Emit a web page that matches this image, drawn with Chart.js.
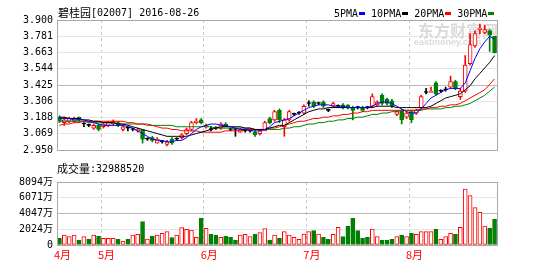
<!DOCTYPE html>
<html>
<head>
<meta charset="utf-8">
<title>碧桂园 K线</title>
<script src="https://cdn.jsdelivr.net/npm/chart.js@4.4.1/dist/chart.umd.min.js"></script>
<style>
  html, body { margin: 0; padding: 0; background: #fff; }
  #wrap { position: relative; width: 550px; height: 263px; overflow: hidden; }
  canvas { position: absolute; left: 0; }
  #price { top: 0; }
  #vol { top: 160px; }
</style>
</head>
<body>
<div id="wrap">
  <canvas id="price" width="550" height="160"></canvas>
  <canvas id="vol" width="550" height="103"></canvas>
</div>
<script>
// trading days 2016-04 .. 2016-08-26, month starts by bar index
const monthStarts = [0, 9, 30, 51, 72];
const monthLabels = ['4月', '5月', '6月', '7月', '8月'];

const opens = [3.19,3.15,3.16,3.16,3.19,3.14,3.13,3.11,3.13,3.12,
  3.13,3.14,3.15,3.10,3.11,3.10,3.09,3.10,3.03,3.04,
  3.00,3.01,2.99,3.03,3.03,3.04,3.07,3.10,3.15,3.17,
  3.12,3.10,3.11,3.11,3.14,3.10,3.10,3.08,3.09,3.09,
  3.08,3.07,3.09,3.18,3.17,3.24,3.12,3.17,3.21,3.22,
  3.22,3.29,3.30,3.29,3.30,3.24,3.27,3.27,3.28,3.28,
  3.26,3.26,3.26,3.26,3.27,3.28,3.35,3.32,3.31,3.21,
  3.24,3.19,3.23,3.22,3.26,3.37,3.37,3.44,3.38,3.39,
  3.41,3.45,3.34,3.38,3.58,3.71,3.83,3.81,3.82,3.78];
const closes = [3.16,3.17,3.18,3.18,3.17,3.14,3.13,3.13,3.10,3.14,
  3.15,3.16,3.13,3.12,3.11,3.10,3.10,3.03,3.03,3.02,
  3.03,3.01,3.01,3.00,3.03,3.06,3.10,3.15,3.16,3.15,
  3.13,3.10,3.11,3.14,3.12,3.10,3.10,3.10,3.09,3.09,
  3.06,3.09,3.15,3.15,3.23,3.17,3.17,3.23,3.21,3.22,
  3.27,3.29,3.27,3.29,3.27,3.24,3.29,3.27,3.26,3.26,
  3.24,3.26,3.24,3.26,3.34,3.30,3.29,3.29,3.27,3.23,
  3.17,3.22,3.17,3.24,3.34,3.37,3.38,3.36,3.38,3.39,
  3.45,3.40,3.38,3.57,3.72,3.80,3.84,3.83,3.79,3.66];
const highs = [3.20,3.19,3.19,3.19,3.19,3.15,3.14,3.14,3.14,3.15,
  3.16,3.17,3.16,3.13,3.12,3.11,3.11,3.10,3.04,3.05,
  3.04,3.02,3.02,3.04,3.04,3.07,3.11,3.16,3.18,3.18,
  3.14,3.12,3.12,3.15,3.15,3.11,3.11,3.11,3.10,3.10,
  3.09,3.10,3.16,3.19,3.24,3.25,3.18,3.24,3.22,3.23,
  3.28,3.31,3.31,3.30,3.31,3.25,3.30,3.28,3.29,3.28,
  3.27,3.27,3.27,3.27,3.36,3.31,3.36,3.33,3.32,3.24,
  3.25,3.23,3.24,3.25,3.35,3.40,3.41,3.45,3.39,3.41,
  3.49,3.46,3.40,3.64,3.80,3.82,3.87,3.86,3.83,3.78];
const lows = [3.15,3.13,3.15,3.15,3.16,3.12,3.12,3.10,3.09,3.11,
  3.12,3.13,3.12,3.09,3.09,3.09,3.08,3.00,3.02,3.01,
  3.00,3.00,2.98,2.99,3.02,3.03,3.06,3.09,3.14,3.14,
  3.11,3.09,3.10,3.10,3.12,3.09,3.05,3.08,3.08,3.08,
  3.05,3.06,3.09,3.14,3.16,3.15,3.05,3.16,3.20,3.21,
  3.21,3.27,3.26,3.28,3.26,3.23,3.26,3.26,3.25,3.25,
  3.17,3.25,3.23,3.25,3.26,3.27,3.28,3.28,3.26,3.20,
  3.14,3.18,3.15,3.21,3.25,3.36,3.37,3.35,3.37,3.38,
  3.40,3.39,3.32,3.37,3.57,3.70,3.80,3.80,3.67,3.66];

const ma5 = [3.18,3.18,3.18,3.17,3.17,3.17,3.16,3.15,3.14,3.13,
  3.13,3.13,3.13,3.13,3.12,3.11,3.09,3.07,3.05,3.03,
  3.02,3.02,3.01,3.01,3.02,3.02,3.04,3.07,3.10,3.12,
  3.13,3.14,3.14,3.13,3.13,3.12,3.11,3.10,3.10,3.09,
  3.09,3.09,3.10,3.12,3.15,3.16,3.17,3.18,3.20,3.22,
  3.24,3.26,3.27,3.28,3.28,3.28,3.27,3.27,3.27,3.26,
  3.26,3.26,3.26,3.26,3.27,3.29,3.30,3.30,3.29,3.27,
  3.25,3.23,3.22,3.22,3.25,3.29,3.33,3.35,3.37,3.39,
  3.40,3.40,3.40,3.44,3.53,3.62,3.69,3.74,3.78,3.76];
const ma10 = [3.19,3.19,3.18,3.18,3.18,3.17,3.17,3.16,3.16,3.15,
  3.15,3.15,3.14,3.14,3.13,3.12,3.11,3.10,3.09,3.08,
  3.07,3.06,3.05,3.05,3.05,3.05,3.05,3.06,3.07,3.08,
  3.09,3.10,3.11,3.12,3.12,3.12,3.12,3.12,3.11,3.11,
  3.10,3.10,3.10,3.11,3.12,3.13,3.13,3.15,3.17,3.19,
  3.21,3.23,3.24,3.25,3.25,3.26,3.26,3.26,3.26,3.26,
  3.26,3.26,3.26,3.26,3.26,3.27,3.27,3.27,3.27,3.26,
  3.26,3.26,3.26,3.26,3.26,3.26,3.27,3.29,3.31,3.33,
  3.34,3.35,3.36,3.39,3.42,3.47,3.51,3.55,3.59,3.64];
const ma20 = [3.13,3.14,3.14,3.15,3.15,3.16,3.16,3.16,3.16,3.16,
  3.16,3.16,3.16,3.16,3.15,3.15,3.14,3.14,3.13,3.13,
  3.12,3.11,3.11,3.10,3.10,3.09,3.09,3.09,3.09,3.08,
  3.08,3.08,3.08,3.08,3.09,3.09,3.09,3.09,3.10,3.10,
  3.10,3.10,3.10,3.11,3.11,3.12,3.13,3.14,3.15,3.16,
  3.16,3.17,3.18,3.18,3.19,3.19,3.20,3.20,3.21,3.21,
  3.22,3.22,3.23,3.23,3.24,3.24,3.24,3.24,3.24,3.24,
  3.24,3.24,3.24,3.24,3.25,3.25,3.26,3.26,3.27,3.27,
  3.28,3.28,3.29,3.31,3.33,3.35,3.37,3.39,3.43,3.47];
const ma30 = [3.16,3.16,3.16,3.16,3.16,3.16,3.15,3.15,3.15,3.15,
  3.15,3.15,3.14,3.14,3.14,3.14,3.14,3.14,3.14,3.13,
  3.13,3.13,3.13,3.13,3.12,3.12,3.12,3.12,3.12,3.12,
  3.12,3.12,3.11,3.11,3.11,3.11,3.11,3.11,3.11,3.11,
  3.10,3.10,3.10,3.10,3.10,3.10,3.11,3.11,3.12,3.12,
  3.13,3.14,3.14,3.15,3.15,3.16,3.16,3.17,3.17,3.18,
  3.18,3.19,3.19,3.20,3.21,3.21,3.22,3.22,3.23,3.23,
  3.24,3.24,3.24,3.24,3.24,3.25,3.25,3.25,3.25,3.26,
  3.26,3.27,3.27,3.28,3.29,3.31,3.33,3.35,3.38,3.41];

// volume in 万 shares, 1 = up (hollow red), 0 = down (green)
const volume = [860,1285,1070,1285,640,1070,770,1285,1160,860,
  860,860,730,510,770,1285,1370,3000,770,1160,
  1285,1500,1710,940,1285,2230,2010,1930,990,3430,
  2140,1370,1240,990,1115,990,640,1285,1370,1070,
  1370,1585,2100,640,1285,860,1710,1285,990,730,
  1410,1710,1840,1410,990,730,1370,2270,1070,2440,
  3430,1840,860,990,2060,1070,640,640,730,1070,
  1285,1070,1500,1370,1710,1710,1710,2010,730,1070,
  1500,1370,2270,7200,6340,4800,4200,2440,2140,3299];
const volUp = [0,1,1,1,0,1,0,1,0,1,
  1,1,0,1,0,1,1,0,1,0,
  1,1,1,0,1,1,1,1,1,0,
  1,0,0,1,0,0,0,1,1,1,
  0,1,1,0,1,0,1,1,1,1,
  1,1,0,1,0,0,1,1,0,0,
  0,0,0,0,1,1,0,0,0,1,
  0,1,0,1,1,1,1,0,1,1,
  1,0,1,1,1,1,1,1,0,0];

const priceTicks = ['2.950','3.069','3.188','3.306','3.425','3.544','3.663','3.781','3.900'];
const volTicks = [0, 2024, 4047, 6071, 8094];

const UP = '#ff0000', DOWN = '#008000', FLAT = '#000000';
const FRAME = '#a8a8a8', GRID = '#e6e6e6', MID = '#b8b8b8', DASH = '#c8c8c8';
const MONO = '"DejaVu Sans Mono"', CJK = '"Noto Sans CJK SC"';

const days = closes.map((c, i) => i);
const candleColor = closes.map((c, i) => c > opens[i] ? UP : (c < opens[i] ? DOWN : FLAT));
const candleFill = candleColor.map(c => c === UP ? '#ffffff' : c);

function drawParts(ctx, x, y, parts) {
  ctx.textBaseline = 'middle';
  ctx.textAlign = 'left';
  parts.forEach(p => {
    ctx.font = p.font;
    ctx.fillStyle = p.color || '#000';
    ctx.fillText(p.text, x, y);
    x += ctx.measureText(p.text).width;
  });
  return x;
}

const xAxis = () => ({
  type: 'category',
  offset: true,
  grid: {
    offset: true,
    drawTicks: false,
    color: ctx => (ctx.index > 0 && monthStarts.includes(ctx.index)) ? DASH : 'rgba(0,0,0,0)'
  },
  border: { display: false, dash: [3, 3] },
  ticks: { display: false, autoSkip: false },
  afterFit: s => { s.height = 0; }
});

const frame = {
  id: 'frame',
  afterDraw(chart) {
    const { ctx, chartArea: a } = chart;
    ctx.save();
    ctx.strokeStyle = FRAME;
    ctx.lineWidth = 1;
    ctx.strokeRect(a.left + 0.5, a.top + 0.5, a.right - a.left, a.bottom - a.top);
    ctx.restore();
  }
};

const priceDecor = {
  id: 'priceDecor',
  beforeDatasetsDraw(chart) {
    const ctx = chart.ctx;
    ctx.save();
    ctx.fillStyle = '#dadada';
    ctx.textBaseline = 'middle';
    ctx.font = 'bold 16px ' + CJK;
    ctx.fillText('东方财富网', 418, 31);
    ctx.font = 'bold 9px "Liberation Sans"';
    ctx.fillText('eastmoney.com', 414, 43);
    ctx.restore();
  },
  afterDraw(chart) {
    const ctx = chart.ctx;
    ctx.save();
    drawParts(ctx, 58, 13, [
      { text: '碧桂园', font: '11px ' + CJK },
      { text: '[02007] 2016-08-26', font: '10px ' + MONO }
    ]);
    const items = [['5PMA', '#0000ff'], ['10PMA', '#000000'], ['20PMA', '#ff0000'], ['30PMA', '#008000']];
    let x = 334;
    items.forEach(([t, c]) => {
      x = drawParts(ctx, x, 14, [{ text: t, font: '10px ' + MONO }]) + 1;
      ctx.fillStyle = c;
      ctx.fillRect(Math.round(x), 12, 6, 3);
      x += 6 + 6;
    });
    ctx.restore();
  }
};

const volDecor = {
  id: 'volDecor',
  afterDraw(chart) {
    const ctx = chart.ctx;
    const xs = chart.scales.x;
    const band = xs.getPixelForValue(1) - xs.getPixelForValue(0);
    ctx.save();
    drawParts(ctx, 57, 9, [
      { text: '成交量', font: '11px ' + CJK },
      { text: ':32988520', font: '10px ' + MONO }
    ]);
    monthStarts.forEach((idx, k) => {
      const left = xs.getPixelForValue(idx) - band / 2 - 3;
      drawParts(ctx, left, 95, [{ text: monthLabels[k], font: '11px ' + CJK, color: UP }]);
    });
    ctx.restore();
  }
};

const maLine = (label, data, color) => ({
  type: 'line', label, data, borderColor: color, borderWidth: 1,
  pointRadius: 0, tension: 0, order: 0
});

new Chart(document.getElementById('price'), {
  type: 'bar',
  data: {
    labels: days,
    datasets: [
      maLine('5PMA', ma5, '#0000ff'),
      maLine('10PMA', ma10, '#000000'),
      maLine('20PMA', ma20, '#ff0000'),
      maLine('30PMA', ma30, '#008000'),
      {
        label: 'body', data: opens.map((o, i) => [o, closes[i]]),
        backgroundColor: candleFill, borderColor: candleColor, borderWidth: 1,
        borderSkipped: false, barThickness: 4, minBarLength: 1, grouped: false, order: 1
      },
      {
        label: 'wick', data: lows.map((l, i) => [l, highs[i]]),
        backgroundColor: candleColor, barThickness: 1, grouped: false, order: 2
      }
    ]
  },
  options: {
    responsive: false,
    animation: false,
    devicePixelRatio: 1,
    layout: { padding: { left: 0, right: 53, top: 20, bottom: 3 } },
    plugins: { legend: { display: false }, tooltip: { enabled: false } },
    scales: {
      x: xAxis(),
      y: {
        type: 'linear',
        min: 2.95,
        max: 3.9,
        afterFit: s => { s.width = 57; },
        afterBuildTicks: s => { s.ticks = priceTicks.map(t => ({ value: parseFloat(t) })); },
        ticks: {
          padding: 4,
          color: '#000',
          font: { family: MONO, size: 10 },
          callback: v => v.toFixed(3)
        },
        grid: {
          drawTicks: false,
          color: ctx => (ctx.index === 0 || ctx.index === priceTicks.length - 1) ? FRAME : (ctx.index === 4 ? MID : GRID)
        },
        border: { color: FRAME }
      }
    }
  },
  plugins: [frame, priceDecor]
});

new Chart(document.getElementById('vol'), {
  type: 'bar',
  data: {
    labels: days,
    datasets: [{
      label: '成交量',
      data: volume,
      backgroundColor: volUp.map(u => u ? '#ffffff' : DOWN),
      borderColor: volUp.map(u => u ? UP : DOWN),
      borderWidth: 1,
      borderSkipped: false,
      barThickness: 4
    }]
  },
  options: {
    responsive: false,
    animation: false,
    devicePixelRatio: 1,
    layout: { padding: { left: 0, right: 53, top: 22, bottom: 18 } },
    plugins: { legend: { display: false }, tooltip: { enabled: false } },
    scales: {
      x: xAxis(),
      y: {
        type: 'linear',
        min: 0,
        max: 8094,
        afterFit: s => { s.width = 57; },
        afterBuildTicks: s => { s.ticks = volTicks.map(v => ({ value: v })); },
        ticks: {
          padding: 4,
          color: '#000',
          font: { family: MONO + ', ' + CJK, size: 10 },
          callback: v => v === 0 ? '0' : v + '万'
        },
        grid: {
          drawTicks: false,
          color: ctx => (ctx.index === 0 || ctx.index === volTicks.length - 1) ? FRAME : (ctx.index === 2 ? MID : GRID)
        },
        border: { color: FRAME }
      }
    }
  },
  plugins: [frame, volDecor]
});
</script>
</body>
</html>
